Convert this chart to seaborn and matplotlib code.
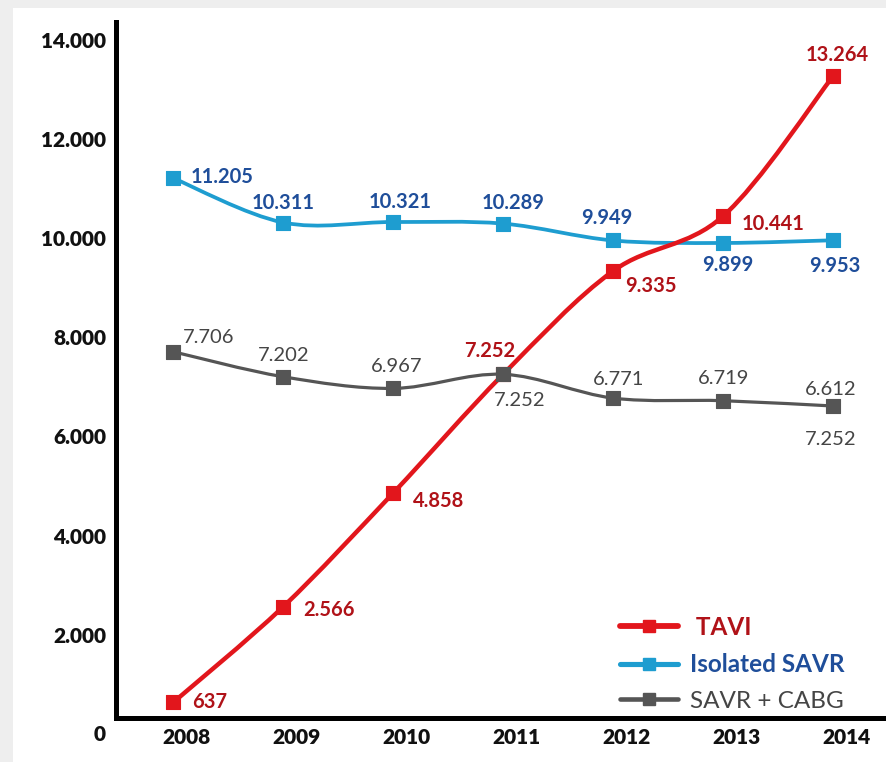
import numpy as np
import matplotlib
matplotlib.use("Agg")
import matplotlib.pyplot as plt
import seaborn as sns
from matplotlib.path import Path
from matplotlib.patches import PathPatch, Rectangle
from matplotlib.lines import Line2D
from matplotlib.transforms import ScaledTranslation

# %% data
years = [2008, 2009, 2010, 2011, 2012, 2013, 2014]
tavi = [637, 2566, 4858, 7252, 9335, 10441, 13264]
isolated_savr = [11205, 10311, 10321, 10289, 9949, 9899, 9953]
savr_cabg = [7706, 7202, 6967, 7252, 6771, 6719, 6612]
# stray label printed under the last grey point in the original
extra_label_year = 2014
extra_label_text = "7.252"
y_ticks = [2000, 4000, 6000, 8000, 10000, 12000, 14000]

COR_TAVI = "#E2161C"
COR_TAVI_TXT = "#B01218"
COR_SAVR = "#1E9DD0"
COR_SAVR_TXT = "#1F4E9A"
COR_CABG = "#555555"
COR_CABG_TXT = "#454545"

FONT = ["Lato", "DejaVu Sans"]


def fmt(v):
    return f"{v:,}".replace(",", ".")


def smooth_path(xs, ys):
    """Catmull-Rom style bezier through the points (like Excel's smoothed line)."""
    px = np.r_[xs[0], xs, xs[-1]].astype(float)
    py = np.r_[ys[0], ys, ys[-1]].astype(float)
    verts = [(px[1], py[1])]
    codes = [Path.MOVETO]
    for i in range(len(xs) - 1):
        p0 = np.array([px[i], py[i]])
        p1 = np.array([px[i + 1], py[i + 1]])
        p2 = np.array([px[i + 2], py[i + 2]])
        p3 = np.array([px[i + 3], py[i + 3]])
        c1 = p1 + (p2 - p0) / 6
        c2 = p2 - (p3 - p1) / 6
        verts += [tuple(c1), tuple(c2), tuple(p2)]
        codes += [Path.CURVE4] * 3
    return Path(verts, codes)


sns.set_theme(style="white")
plt.rcParams["font.family"] = FONT

fig = plt.figure(figsize=(8.86, 7.62), dpi=100)
fig.patch.set_facecolor("#EEEEEE")
fig.patches.append(Rectangle((13 / 886, 0), 1, 1 - 8 / 762, transform=fig.transFigure,
                             facecolor="white", edgecolor="none", zorder=-10))

ax = fig.add_axes([116 / 886, 1 - 718 / 762, 1 - 116 / 886, (718 - 22) / 762])
ax.set_facecolor("none")

series = [
    ("Isolated SAVR", isolated_savr, COR_SAVR, COR_SAVR_TXT, 2.7, 2, "bold"),
    ("TAVI", tavi, COR_TAVI, COR_TAVI_TXT, 3.2, 3, "bold"),
    ("SAVR + CABG", savr_cabg, COR_CABG, COR_CABG_TXT, 2.3, 4, "normal"),
]

for name, vals, cor, _, lw, z, _w in series:
    ax.add_patch(PathPatch(smooth_path(years, vals), facecolor="none", edgecolor=cor,
                           lw=lw, zorder=z, capstyle="round"))
    sns.scatterplot(x=years, y=vals, marker="s", s=115, color=cor, edgecolor=cor,
                    linewidth=0.8, zorder=z + 0.5, ax=ax, legend=False)

# label offsets in pixels relative to each marker (dx, dy, ha)
offs_tavi = [(19, 0, "left"), (20, -3, "left"), (20, -8, "left"), (-14, 23, "center"),
             (12, -15, "left"), (18, -8, "left"), (4, 21, "center")]
offs_savr = [(17, 1, "left"), (0, 20, "center"), (7, 20, "center"), (10, 21, "center"),
             (-6, 22, "center"), (5, -22, "center"), (2, -26, "center")]
offs_cabg = [(10, 14, "left"), (0, 21, "center"), (3, 22, "center"), (16, -26, "center"),
             (5, 19, "center"), (0, 22, "center"), (-3, 17, "center")]

for (name, vals, cor, cor_txt, lw, z, peso), offs in zip(series, [offs_savr, offs_tavi, offs_cabg]):
    for x, v, (dx, dy, ha) in zip(years, vals, offs):
        ax.annotate(fmt(v), xy=(x, v), xytext=(dx, dy), textcoords="offset pixels",
                    ha=ha, va="center", fontsize=14.5, fontweight=peso, color=cor_txt,
                    zorder=6)

ax.annotate(extra_label_text, xy=(extra_label_year, savr_cabg[-1]), xytext=(-3, -33),
            textcoords="offset pixels", ha="center", va="center", fontsize=14.5,
            color=COR_CABG_TXT, zorder=6)

ax.set_xlim(2007.48, 2014.48)
ax.set_ylim(323, 14353)
ax.set_xticks(years)
ax.set_xticklabels([str(y) for y in years], fontsize=15, fontweight="heavy")
ax.set_yticks(y_ticks)
ax.set_yticklabels([fmt(t) for t in y_ticks], fontsize=15, fontweight="heavy")
ax.tick_params(axis="both", length=0, colors="#111111")
ax.tick_params(axis="y", pad=7)
ax.tick_params(axis="x", pad=7)
for lab in ax.get_xticklabels():
    lab.set_transform(lab.get_transform() + ScaledTranslation(0.13, 0, fig.dpi_scale_trans))

ax.annotate("0", xy=(0, 0), xycoords=("axes fraction", "data"), xytext=(-10, 0),
            textcoords="offset pixels", ha="right", va="center", fontsize=15,
            fontweight="heavy", color="#111111", annotation_clip=False)

sns.despine(ax=ax)
for lado in ["left", "bottom"]:
    ax.spines[lado].set_color("black")
    ax.spines[lado].set_linewidth(3.6)
ax.grid(False)

handles = [Line2D([0], [0], color=cor, lw=lw + 1, marker="s", markersize=9)
           for name, vals, cor, _, lw, z, _w in [series[1], series[0], series[2]]]
leg = ax.legend(handles, [" TAVI", "Isolated SAVR", "SAVR + CABG"],
                loc="lower left", bbox_to_anchor=(620 / 886, 1 - 712 / 762),
                bbox_transform=fig.transFigure, frameon=False, fontsize=17.5,
                handlelength=2.4, handletextpad=0.5, labelspacing=0.6,
                borderpad=0, borderaxespad=0)
for txt, cor, peso in zip(leg.get_texts(), [COR_TAVI_TXT, COR_SAVR_TXT, COR_CABG_TXT],
                          ["bold", "bold", "normal"]):
    txt.set_color(cor)
    txt.set_fontweight(peso)

fig.savefig("out.png", dpi=100, facecolor=fig.get_facecolor())
